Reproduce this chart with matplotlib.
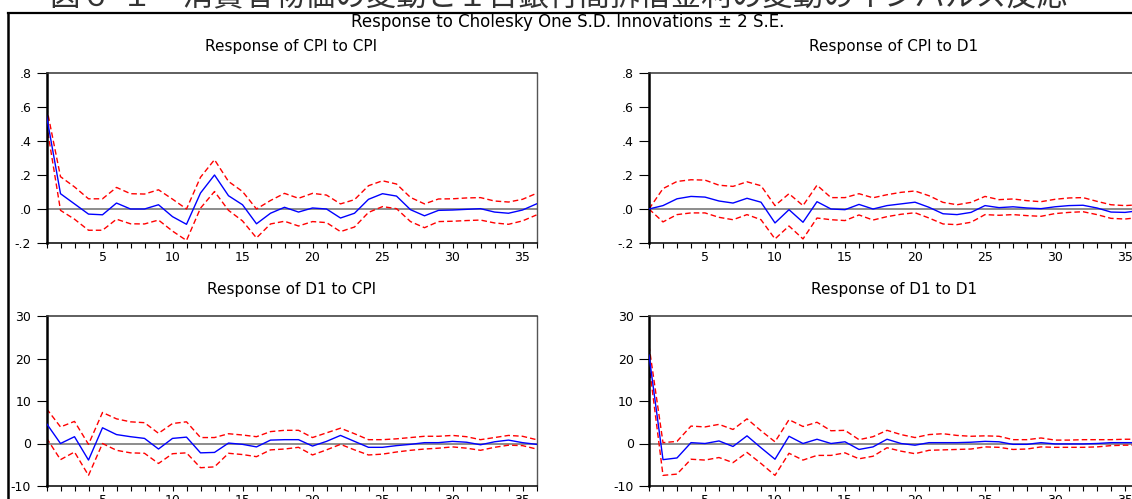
import matplotlib
matplotlib.use("Agg")
import matplotlib.pyplot as plt
from matplotlib.ticker import MultipleLocator, FuncFormatter
from matplotlib.lines import Line2D

# ---------------------------------------------------------------- data
periods = list(range(1, 37))

cpi_cpi = [0.55, 0.09, 0.03, -0.03, -0.034, 0.035, 0.0, 0.0, 0.025, -0.045,
           -0.09, 0.094, 0.20, 0.078, 0.025, -0.087, -0.025, 0.01, -0.018, 0.006,
           0.0, -0.053, -0.025, 0.057, 0.09, 0.076, -0.004, -0.04, -0.008, -0.006,
           -0.002, 0.002, -0.018, -0.025, -0.006, 0.03]
cpi_cpi_hi = [0.60, 0.19, 0.13, 0.06, 0.06, 0.127, 0.09, 0.088, 0.113, 0.058,
              0.0, 0.187, 0.29, 0.162, 0.103, 0.0, 0.05, 0.092, 0.063, 0.092,
              0.082, 0.03, 0.055, 0.137, 0.166, 0.147, 0.068, 0.03, 0.059, 0.06,
              0.065, 0.067, 0.047, 0.041, 0.057, 0.092]
cpi_cpi_lo = [0.50, -0.008, -0.06, -0.125, -0.125, -0.06, -0.087, -0.088, -0.065, -0.13,
              -0.185, 0.005, 0.103, -0.008, -0.07, -0.17, -0.088, -0.072, -0.10, -0.074,
              -0.08, -0.133, -0.106, -0.02, 0.014, 0.002, -0.074, -0.11, -0.074, -0.072,
              -0.068, -0.065, -0.082, -0.09, -0.07, -0.035]

cpi_d1 = [0.0, 0.02, 0.06, 0.074, 0.07, 0.047, 0.035, 0.063, 0.04, -0.082,
          -0.004, -0.078, 0.043, 0.0, -0.004, 0.027, 0.0, 0.02, 0.03, 0.04,
          0.01, -0.028, -0.033, -0.02, 0.02, 0.008, 0.013, 0.006, 0.002, 0.013,
          0.02, 0.022, 0.006, -0.018, -0.02, -0.01]
cpi_d1_hi = [0.0, 0.12, 0.162, 0.172, 0.17, 0.14, 0.133, 0.16, 0.137, 0.02,
             0.09, 0.02, 0.14, 0.067, 0.067, 0.09, 0.066, 0.084, 0.098, 0.106,
             0.078, 0.039, 0.025, 0.039, 0.074, 0.055, 0.059, 0.049, 0.043, 0.057,
             0.065, 0.067, 0.045, 0.025, 0.02, 0.025]
cpi_d1_lo = [0.0, -0.076, -0.033, -0.023, -0.023, -0.049, -0.063, -0.033, -0.063, -0.176,
             -0.10, -0.176, -0.053, -0.063, -0.068, -0.035, -0.065, -0.045, -0.031, -0.022,
             -0.053, -0.088, -0.092, -0.078, -0.033, -0.037, -0.033, -0.039, -0.043, -0.027,
             -0.02, -0.016, -0.033, -0.055, -0.059, -0.05]

d1_cpi = [4.7, 0.0, 1.6, -3.9, 3.7, 2.1, 1.6, 1.2, -1.3, 1.2,
          1.5, -2.2, -2.1, 0.1, -0.2, -0.8, 0.8, 0.9, 0.9, -0.6,
          0.5, 1.9, 0.5, -0.9, -0.9, -0.5, -0.2, 0.2, 0.2, 0.5,
          0.3, -0.3, 0.4, 0.8, 0.2, -0.2]
d1_cpi_hi = [8.2, 3.9, 5.2, -0.2, 7.3, 5.8, 5.1, 4.9, 2.4, 4.7,
             5.1, 1.4, 1.4, 2.3, 2.0, 1.6, 2.8, 3.1, 3.1, 1.4,
             2.5, 3.6, 2.3, 0.9, 0.9, 1.1, 1.4, 1.7, 1.7, 1.9,
             1.6, 0.9, 1.4, 1.9, 1.7, 0.9]
d1_cpi_lo = [1.3, -3.8, -2.0, -7.5, 0.0, -1.6, -2.2, -2.3, -4.7, -2.4,
             -2.2, -5.7, -5.5, -2.3, -2.6, -3.1, -1.5, -1.3, -0.9, -2.7,
             -1.5, -0.2, -1.5, -2.7, -2.5, -2.0, -1.6, -1.3, -1.1, -0.8,
             -1.1, -1.6, -0.9, -0.4, -0.5, -1.3]

d1_d1 = [20.8, -3.8, -3.4, 0.2, 0.0, 0.6, -0.7, 1.8, -1.0, -3.7,
         1.7, 0.0, 1.0, 0.0, 0.4, -1.4, -0.8, 1.0, 0.0, -0.4,
         0.2, 0.2, 0.2, 0.3, 0.5, 0.4, -0.2, -0.2, 0.2, -0.1,
         -0.1, -0.1, 0.0, 0.2, 0.2, 0.2]
d1_d1_hi = [23.0, 0.2, 0.5, 4.1, 3.9, 4.5, 3.3, 5.8, 3.0, 0.4,
            5.6, 4.0, 5.0, 3.0, 3.1, 0.9, 1.6, 3.1, 2.1, 1.4,
            2.1, 2.3, 1.9, 1.7, 1.8, 1.7, 0.9, 0.9, 1.3, 0.8,
            0.8, 0.9, 0.9, 0.9, 1.0, 1.0]
d1_d1_lo = [18.7, -7.5, -7.2, -3.7, -3.9, -3.3, -4.5, -2.1, -4.7, -7.5,
            -2.3, -3.9, -2.8, -2.8, -2.2, -3.6, -3.0, -1.0, -1.8, -2.4,
            -1.6, -1.5, -1.4, -1.3, -0.8, -0.9, -1.4, -1.3, -0.8, -0.9,
            -0.9, -0.9, -0.8, -0.5, -0.4, -0.4]

panel_titles = ["Response of CPI to CPI", "Response of CPI to D1",
                "Response of D1 to CPI", "Response of D1 to D1"]
main_title = "Response to Cholesky One S.D. Innovations \u00b1 2 S.E."
header = "図６-１　消費者物価の変動と１日銀行間拆借金利の変動のインパルス反応"

# ---------------------------------------------------------------- figure
W, H = 1132, 499
fig = plt.figure(figsize=(W / 100, H / 100), dpi=100)
fig.patch.set_facecolor("white")

LATIN = ["DejaVu Sans"]


def px_axes(left, top, right, bottom):
    return fig.add_axes([left / W, 1 - bottom / H, (right - left) / W, (bottom - top) / H])


def frac_fmt(v, _pos):
    s = f"{v:.1f}"
    if s.startswith("-0."):
        return "-" + s[2:]
    if s.startswith("0."):
        return s[1:]
    return s


def int_fmt(v, _pos):
    return f"{int(round(v))}"


def draw_panel(ax, mid, hi, lo, ylim, ystep, fmt, title):
    ax.axhline(0, color="#8c8c8c", lw=1.4, zorder=1)
    ax.plot(periods, hi, color="#ff0000", lw=1.0, ls=(0, (4, 2.2)), zorder=2)
    ax.plot(periods, lo, color="#ff0000", lw=1.0, ls=(0, (4, 2.2)), zorder=2)
    ax.plot(periods, mid, color="#0000ff", lw=1.0, zorder=3)
    ax.set_xlim(1, 36)
    ax.set_ylim(*ylim)
    ax.xaxis.set_major_locator(MultipleLocator(5))
    ax.xaxis.set_minor_locator(MultipleLocator(1))
    ax.yaxis.set_major_locator(MultipleLocator(ystep))
    ax.yaxis.set_major_formatter(FuncFormatter(fmt))
    ax.tick_params(axis="x", which="both", direction="out", length=3.5, width=0.8,
                   labelsize=9, pad=2)
    ax.tick_params(axis="y", which="major", direction="out", length=7, width=0.8,
                   labelsize=9, pad=4)
    for lab in ax.get_xticklabels() + ax.get_yticklabels():
        lab.set_family(LATIN)
    ax.spines["left"].set_linewidth(1.8)
    ax.spines["left"].set_color("black")
    ax.spines["bottom"].set_linewidth(1.1)
    ax.spines["bottom"].set_color("black")
    ax.spines["top"].set_linewidth(1.1)
    ax.spines["top"].set_color("#333333")
    ax.spines["right"].set_linewidth(1.0)
    ax.spines["right"].set_color("#555555")
    ax.set_facecolor("white")
    ax.set_title(title, fontsize=11, family=LATIN, pad=16)


ax1 = px_axes(46.5, 73, 536.5, 243)
ax2 = px_axes(649, 73, 1139, 243)
ax3 = px_axes(46.5, 316, 536.5, 486)
ax4 = px_axes(649, 316, 1139, 486)

draw_panel(ax1, cpi_cpi, cpi_cpi_hi, cpi_cpi_lo, (-0.2, 0.8), 0.2, frac_fmt, panel_titles[0])
draw_panel(ax2, cpi_d1, cpi_d1_hi, cpi_d1_lo, (-0.2, 0.8), 0.2, frac_fmt, panel_titles[1])
draw_panel(ax3, d1_cpi, d1_cpi_hi, d1_cpi_lo, (-10, 30), 10, int_fmt, panel_titles[2])
draw_panel(ax4, d1_d1, d1_d1_hi, d1_d1_lo, (-10, 30), 10, int_fmt, panel_titles[3])

# outer frame around the graph block
fig.add_artist(Line2D([8 / W, 8 / W], [1 - 13 / H, 0], transform=fig.transFigure,
                      color="black", lw=1.8))
fig.add_artist(Line2D([8 / W, 1], [1 - 13 / H, 1 - 13 / H], transform=fig.transFigure,
                      color="black", lw=1.6))

fig.text(568 / W, 1 - 22 / H, main_title, ha="center", va="center",
         fontsize=12, family=LATIN)

# document caption above the graph
fig.text(50 / W, 1 + 3 / H, header, ha="left", va="center", fontsize=22,
         family=["Noto Sans CJK JP", "DejaVu Sans"], color="#333333")

fig.savefig("out.png", dpi=100, facecolor="white")
